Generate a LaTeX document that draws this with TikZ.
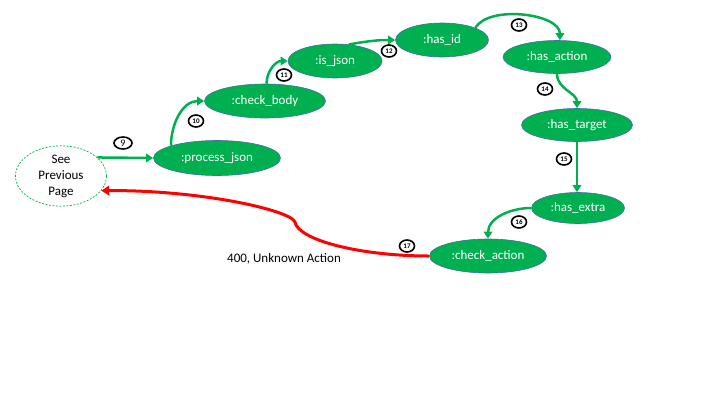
\documentclass[tikz,border=0pt]{standalone}
\usepackage{fontspec}
\setmainfont{Carlito}
\usetikzlibrary{shapes.geometric,arrows.meta}

\begin{document}
\begin{tikzpicture}[x=1pt,y=1pt,
		state/.style={ellipse,fill=nodecolor,draw=bordercolor,line width=0.6pt,text=white,inner sep=0pt,
			font=\fontsize{13}{15}\selectfont},
		stepnum/.style={ellipse,draw=black,line width=1.6pt,fill=white,inner sep=0pt,
			minimum width=15pt,minimum height=12pt,font=\fontsize{7}{8}\selectfont\bfseries},
		flow/.style={draw=nodecolor,line width=2.5pt,-{Triangle[length=7pt,width=8.5pt]}},
		reject/.style={draw=red,line width=3pt,-{Triangle[length=8pt,width=9.5pt]}}]
				% Colors
				\definecolor{nodecolor}{HTML}{00B050}
				\definecolor{bordercolor}{HTML}{41719C}

				\useasboundingbox (0,0) rectangle (720,-405);

				% states
				\node[ellipse,draw=nodecolor,dash pattern=on 2pt off 1.5pt,line width=0.7pt,
					minimum width=91pt,minimum height=56pt,inner sep=0pt,align=center,
					font=\fontsize{13}{16}\selectfont] (prevPage) at (61,-176) {See\\Previous\\Page};
				\node[state,minimum width=127pt,minimum height=35pt] (procJson) at (217,-158) {:process\_json};
				\node[state,minimum width=121pt,minimum height=34pt] (chkBody) at (265,-101) {:check\_body};
				\node[state,minimum width=94pt,minimum height=34pt] (isJson) at (335,-61) {:is\_json};
				\node[state,minimum width=93pt,minimum height=34pt] (hasId) at (442,-40) {:has\_id};
				\node[state,minimum width=108pt,minimum height=33pt] (hasAction) at (557,-57) {:has\_action};
				\node[state,minimum width=111pt,minimum height=33pt] (hasTarget) at (577,-125) {:has\_target};
				\node[state,minimum width=93pt,minimum height=31pt] (hasExtra) at (578,-208) {:has\_extra};
				\node[state,minimum width=117pt,minimum height=34pt] (chkAction) at (488,-256) {:check\_action};

				% transitions
				\draw[flow] (prevPage.27) -- (procJson.west);
				\draw[flow] (procJson.165) to[out=90,in=180] (chkBody.west);
				\draw[flow] (chkBody.85) to[out=90,in=180] (isJson.west);
				\draw[flow] (isJson.50) to[out=10,in=180] (hasId.west);
				\draw[flow] (hasId.20) to[out=60,in=90,looseness=0.8] (hasAction.80);
				\draw[flow] (hasAction.south) to[out=-90,in=90] (hasTarget.north);
				\draw[flow] (hasTarget.south) -- (hasTarget.south |- hasExtra.north);
				\draw[flow] (hasExtra.west) to[out=180,in=90] (chkAction.north);

				\coordinate (bend) at (295,-222);
				\draw[reject] (chkAction.west) .. controls (360,-256) and (298,-240) .. (bend)
					.. controls (290,-210) and (200,-190) .. (prevPage.-20);

				% step numbers
				\node[stepnum,minimum width=18pt,font=\fontsize{10}{11}\selectfont] (step9) at (123,-143) {9};
				\node[stepnum] (step10) at (196,-121) {10};
				\node[stepnum] (step11) at (284,-75) {11};
				\node[stepnum] (step12) at (389,-51) {12};
				\node[stepnum] (step13) at (519,-25) {13};
				\node[stepnum] (step14) at (545,-89) {14};
				\node[stepnum] (step15) at (564,-159) {15};
				\node[stepnum] (step16) at (519,-222) {16};
				\node[stepnum] (step17) at (407,-246) {17};

				\node[font=\fontsize{13}{15}\selectfont] (errLabel) at (284,-259) {400, Unknown Action};
\end{tikzpicture}
\end{document}
